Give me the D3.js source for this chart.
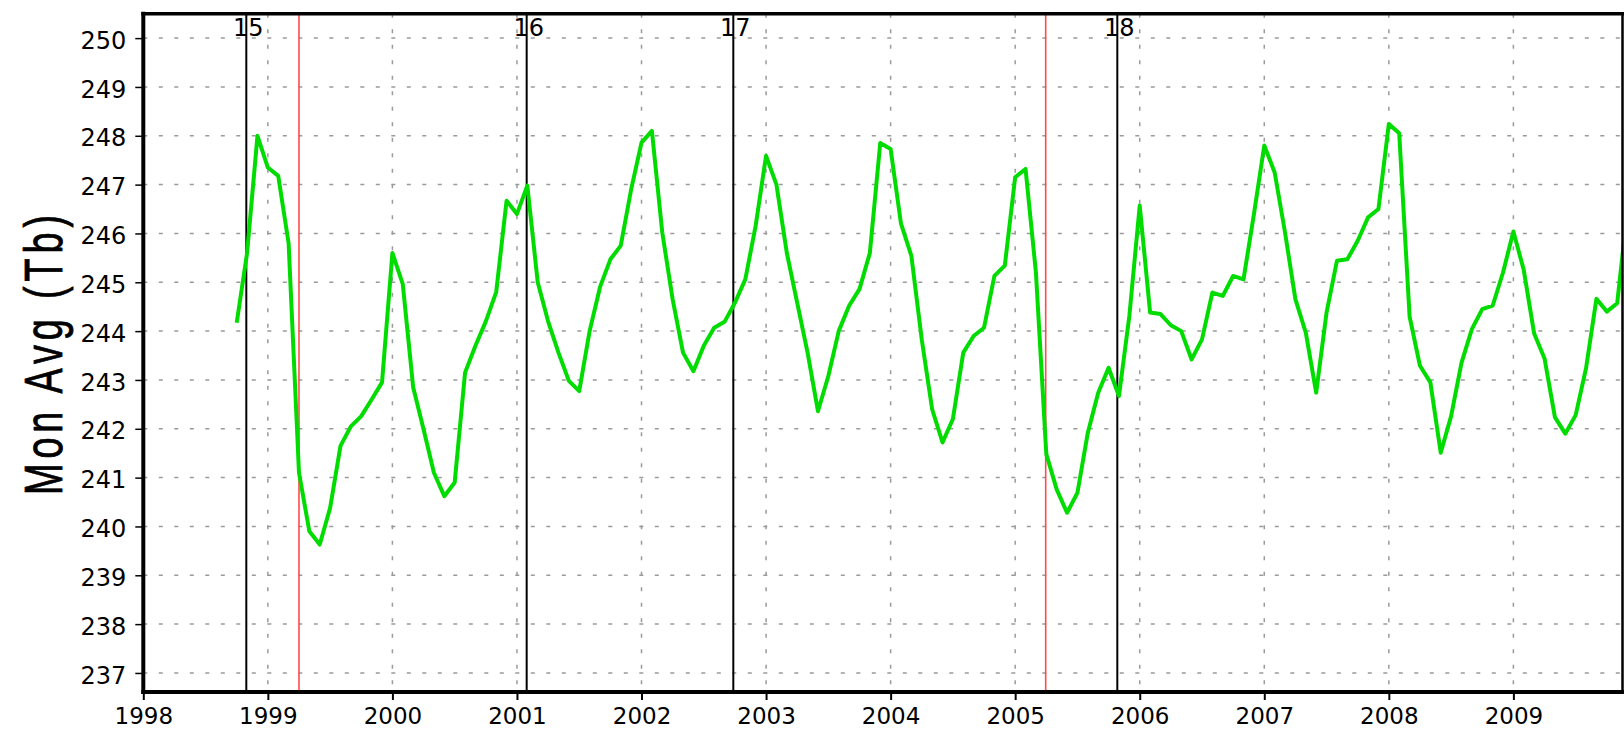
<!DOCTYPE html>
<html>
<head>
<meta charset="utf-8">
<script src="https://cdn.jsdelivr.net/npm/d3@7"></script>
<style>
  html, body { margin: 0; padding: 0; background: #fff; overflow: hidden; }
  svg { display: block; }
</style>
</head>
<body>
<svg id="chart" width="1624" height="730"></svg>
<script>
// ---- data ----
const yearTicks = d3.range(1998, 2010);          // 1998 ... 2009
const tbTicks = d3.range(237, 251);              // 237 ... 250
const firstYear = 1998;
const firstMonth = 9;                            // October (0-based)

// monthly average brightness temperature, Oct 1998 - Dec 2009
const monthlyTb = [
  244.17, 245.6, 248.0,
  247.35, 247.18, 245.8, 241.1, 239.9, 239.63, 240.38, 241.65, 242.05, 242.26, 242.6, 242.95,
  245.6, 244.96, 242.85, 241.99, 241.1, 240.62, 240.9, 243.15, 243.7, 244.2, 244.8, 246.67,
  246.4, 246.98, 245.0, 244.2, 243.56, 242.98, 242.77, 244.0, 244.9, 245.47, 245.75, 246.9,
  247.86, 248.1, 246.02, 244.65, 243.56, 243.18, 243.7, 244.07, 244.19, 244.58, 245.06, 246.16,
  247.59, 247.0, 245.6, 244.58, 243.56, 242.36, 243.08, 244.0, 244.52, 244.86, 245.6, 247.85,
  247.73, 246.2, 245.54, 243.83, 242.4, 241.72, 242.2, 243.56, 243.9, 244.07, 245.13, 245.34,
  247.15, 247.32, 245.2, 241.48, 240.76, 240.28, 240.69, 241.92, 242.74, 243.25, 242.67, 244.31,
  246.57, 244.38, 244.35, 244.12, 244.0, 243.42, 243.83, 244.79, 244.72, 245.13, 245.06, 246.39,
  247.8, 247.25, 246.02, 244.65, 243.97, 242.74, 244.38, 245.44, 245.47, 245.85, 246.33, 246.5,
  248.24, 248.05, 244.3, 243.29, 242.95, 241.51, 242.26, 243.35, 244.04, 244.45, 244.52, 245.2,
  246.04, 245.25, 243.95, 243.44, 242.24, 241.9, 242.28, 243.24, 244.66, 244.4, 244.57, 246.5
];

// satellite start markers (black) and changes (red), in decimal years
const satelliteLabels = ["15", "16", "17", "18"];
const satelliteDates = [1998.827, 2001.078, 2002.737, 2005.820];
const changeDates = [1999.25, 2005.245];

// ---- layout ----
const plot = { left: 143.3, right: 1622.5, top: 13.7, bottom: 692 };
const svg = d3.select("#chart");

const x = d3.scaleLinear().domain([1998, 2009.876]).range([plot.left, plot.right]);
const y = d3.scaleLinear().domain([236.61, 250.5]).range([plot.bottom, plot.top]);

const series = monthlyTb.map((v, i) => ({ t: firstYear + (firstMonth + i) / 12, v }));

svg.append("defs").append("clipPath").attr("id", "plotClip")
  .append("rect")
  .attr("x", plot.left).attr("y", plot.top)
  .attr("width", plot.right - plot.left).attr("height", plot.bottom - plot.top);

// grid
const grid = svg.append("g").attr("stroke", "#9a9a9a").attr("stroke-width", 1.5)
  .attr("stroke-dasharray", "4 11.5");
grid.selectAll("line.h").data(tbTicks).join("line").attr("class", "h")
  .attr("x1", plot.left).attr("x2", plot.right)
  .attr("y1", d => y(d)).attr("y2", d => y(d));
grid.selectAll("line.v").data(yearTicks.filter(d => d > 1998)).join("line").attr("class", "v")
  .attr("x1", d => x(d)).attr("x2", d => x(d))
  .attr("y1", plot.top).attr("y2", plot.bottom);

// red change lines
svg.append("g").selectAll("line").data(changeDates).join("line")
  .attr("x1", d => x(d)).attr("x2", d => x(d))
  .attr("y1", plot.top).attr("y2", plot.bottom)
  .attr("stroke", "#ff4a4a").attr("stroke-width", 1.6);

// black satellite lines
svg.append("g").selectAll("line").data(satelliteDates).join("line")
  .attr("x1", d => x(d)).attr("x2", d => x(d))
  .attr("y1", plot.top).attr("y2", plot.bottom)
  .attr("stroke", "#000").attr("stroke-width", 2);

// series line
const line = d3.line().x(d => x(d.t)).y(d => y(d.v));
svg.append("path")
  .datum(series)
  .attr("clip-path", "url(#plotClip)")
  .attr("d", line)
  .attr("fill", "none")
  .attr("stroke", "#00dc00")
  .attr("stroke-width", 4)
  .attr("stroke-linejoin", "round");

// satellite labels
svg.append("g").selectAll("text").data(satelliteDates).join("text")
  .attr("x", d => x(d) + 2).attr("y", 36)
  .attr("text-anchor", "middle")
  .attr("font-family", "DejaVu Sans, sans-serif")
  .attr("font-size", 24)
  .attr("fill", "#000")
  .text((d, i) => satelliteLabels[i]);

// axes
const yAxis = d3.axisLeft(y).tickValues(tbTicks).tickSize(8).tickPadding(9).tickFormat(d3.format("d"));
const gy = svg.append("g").attr("transform", `translate(${plot.left},0)`).call(yAxis);
gy.select(".domain").remove();
gy.selectAll(".tick line").attr("stroke", "#000").attr("stroke-width", 1.5);
gy.selectAll(".tick text")
  .attr("dy", "0.42em")
  .attr("font-family", "DejaVu Sans, sans-serif")
  .attr("font-size", 24)
  .attr("fill", "#000");

const xAxis = d3.axisBottom(x).tickValues(yearTicks).tickSize(8).tickPadding(8).tickFormat(d3.format("d"));
const gx = svg.append("g").attr("transform", `translate(0,${plot.bottom})`).call(xAxis);
gx.select(".domain").remove();
gx.selectAll(".tick line").attr("stroke", "#000").attr("stroke-width", 2);
gx.selectAll(".tick text")
  .attr("font-family", "DejaVu Sans, sans-serif")
  .attr("font-size", 23)
  .attr("fill", "#000");

// frame
const frame = svg.append("g").attr("stroke", "#000").attr("fill", "none");
frame.append("line").attr("x1", plot.left).attr("x2", plot.left)
  .attr("y1", plot.top - 2).attr("y2", plot.bottom + 2).attr("stroke-width", 4);
frame.append("line").attr("x1", plot.left - 2).attr("x2", plot.right + 1.5)
  .attr("y1", plot.top).attr("y2", plot.top).attr("stroke-width", 3.5);
frame.append("line").attr("x1", plot.left - 2).attr("x2", plot.right + 1.5)
  .attr("y1", plot.bottom).attr("y2", plot.bottom).attr("stroke-width", 4);
frame.append("line").attr("x1", plot.right).attr("x2", plot.right)
  .attr("y1", plot.top).attr("y2", plot.bottom).attr("stroke-width", 2.5);

// y-axis title
const titleSx = 0.7;
svg.append("text")
  .attr("transform", `translate(62,355) rotate(-90) scale(${titleSx},1)`)
  .attr("text-anchor", "middle")
  .attr("font-family", "Liberation Sans, Arial, sans-serif")
  .attr("font-size", 54)
  .attr("textLength", 280 / titleSx)
  .attr("lengthAdjust", "spacing")
  .attr("fill", "#000")
  .attr("stroke", "#000")
  .attr("stroke-width", 0.8)
  .text("Mon Avg (Tb)");
</script>
</body>
</html>
